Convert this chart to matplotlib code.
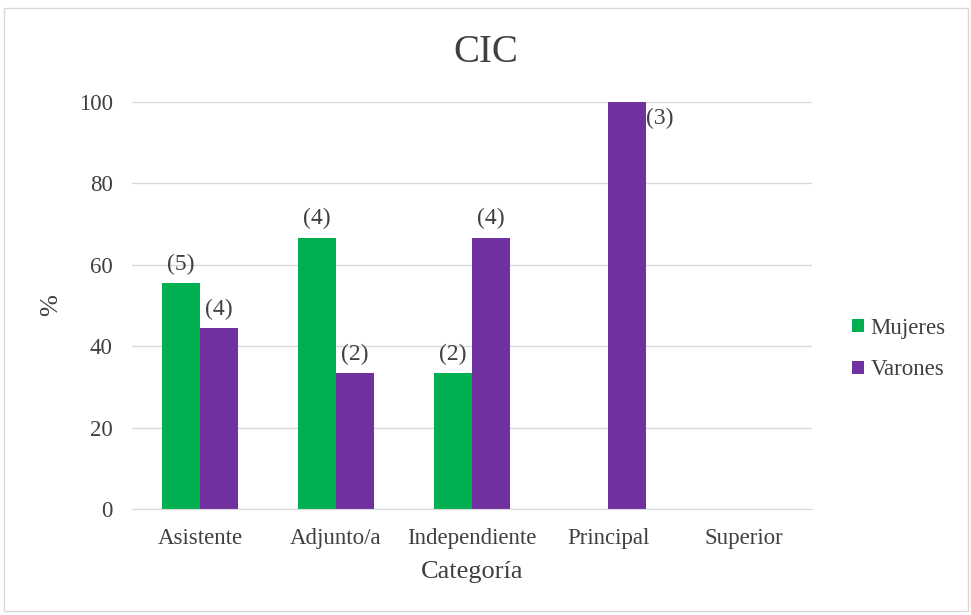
import matplotlib.pyplot as plt
import numpy as np
from matplotlib.patches import Rectangle

# Data
categorias = ['Asistente', 'Adjunto/a', 'Independiente', 'Principal', 'Superior']
mujeres = [55.6, 66.7, 33.3, 0, 0]
varones = [44.4, 33.3, 66.7, 100, 0]
n_mujeres = ['(5)', '(4)', '(2)', '', '']
n_varones = ['(4)', '(2)', '(4)', '(3)', '']

plt.rcParams['font.family'] = ['Liberation Serif', 'DejaVu Serif']

verde = '#00B050'
violeta = '#7030A0'
gris = '#D9D9D9'
texto = '#404040'

fig = plt.figure(figsize=(9.71, 6.15), dpi=100)
ax = fig.add_axes([132 / 971, 1 - 509 / 615, 680 / 971, 407 / 615])

x = np.arange(len(categorias))
w = 0.283
ax.bar(x - w / 2, mujeres, w, color=verde, label='Mujeres')
ax.bar(x + w / 2, varones, w, color=violeta, label='Varones')

# count labels
for xi, v, t in zip(x, mujeres, n_mujeres):
    if t:
        ax.text(xi - w / 2, v + 2, t, ha='center', va='bottom', fontsize=17, color=texto)
for xi, v, t in zip(x, varones, n_varones):
    if not t:
        continue
    if v >= 95:
        ax.text(xi + w, v - 4, t, ha='left', va='center', fontsize=17, color=texto)
    else:
        ax.text(xi + w / 2, v + 2, t, ha='center', va='bottom', fontsize=17, color=texto)

ax.set_xlim(-0.5, len(categorias) - 0.5)
ax.set_ylim(0, 100)
ax.set_yticks(range(0, 101, 20))
ax.set_xticks(x)
ax.set_xticklabels(categorias)
ax.tick_params(axis='both', length=0, labelsize=16.5, labelcolor=texto)
ax.tick_params(axis='y', pad=14)
ax.tick_params(axis='x', pad=14)
ax.grid(axis='y', color=gris, linewidth=1)
ax.set_axisbelow(True)
for s in ['top', 'right', 'left']:
    ax.spines[s].set_visible(False)
ax.spines['bottom'].set_color(gris)

ax.set_ylabel('%', fontsize=19, color=texto, labelpad=12)
ax.set_xlabel('Categoría', fontsize=19, color=texto, labelpad=8)
fig.text(0.5, 1 - 52 / 615, 'CIC', ha='center', va='center', fontsize=28, color=texto)

ax.legend(loc='center left', bbox_to_anchor=(1.029, 0.393), frameon=False,
          fontsize=16.5, handlelength=0.5, handleheight=0.5, handletextpad=0.3,
          labelspacing=0.9, labelcolor=texto)

# outer chart frame
fig.patches.append(Rectangle((4 / 971, 4 / 615), 964 / 971, 603 / 615,
                             transform=fig.transFigure, fill=False,
                             edgecolor=gris, linewidth=1))

fig.savefig('out.png', dpi=100)
